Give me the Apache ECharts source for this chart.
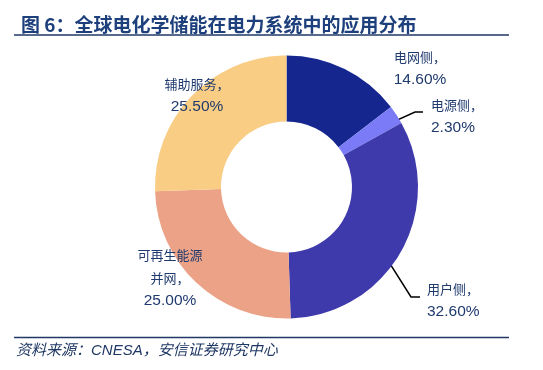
<!DOCTYPE html>
<html>
<head>
<meta charset="utf-8">
<script src="https://cdn.jsdelivr.net/npm/echarts@6/dist/echarts.min.js"></script>
<style>
html,body{margin:0;padding:0;background:#fff;}
#main{width:543px;height:370px;}
</style>
</head>
<body>
<div id="main"></div>
<script>
// ---- data ----
const categories = ['电网侧', '电源侧', '用户侧', '可再生能源\n并网', '辅助服务'];
const shares = [14.6, 2.3, 32.6, 25.0, 25.5];
const sliceColors = ['#15278f', '#7b7bf7', '#3e3aac', '#eba287', '#f9cd83'];

// ---- layout constants ----
const CX = 286.5, CY = 187, R_IN = 65.5, R_OUT = 131.5;
const TEXT = '#1f3a6e';
// label anchor positions per slice
const labelPos = [
  {x: 420, y: 46, align: 'center'},
  {x: 431, y: 94, align: 'left'},
  {x: 427, y: 278, align: 'left'},
  {x: 170, y: 244, align: 'center'},
  {x: 197, y: 73, align: 'center'}
];
const showLine = [false, true, true, false, false];
const lineElbow = [null, [415, 112, 423], [411, 297, 420], null, null];

const total = shares.reduce((a, b) => a + b, 0);
function midAngle(i) {
  let cum = 0;
  for (let k = 0; k < i; k++) cum += shares[k];
  cum += shares[i] / 2;
  return cum / total * Math.PI * 2; // clockwise from top
}

const chart = echarts.init(document.getElementById('main'), null, {renderer: 'canvas'});
const seriesData = categories.map((name, i) => ({
  name: name,
  value: shares[i],
  itemStyle: {color: sliceColors[i]},
  labelLine: {show: showLine[i]}
}));

chart.setOption({
  backgroundColor: '#fff',
  animation: false,
  title: {
    text: '图 6：全球电化学储能在电力系统中的应用分布',
    left: 16, top: 10,
    textStyle: {
      fontFamily: '"Noto Sans CJK SC", sans-serif',
      fontSize: 19, fontWeight: 'bold', color: '#1d3f7c'
    }
  },
  graphic: [
    {type: 'line', shape: {x1: 14, y1: 35, x2: 509, y2: 35}, style: {stroke: '#1f3864', lineWidth: 1.5}},
    {type: 'line', shape: {x1: 14, y1: 337.5, x2: 509, y2: 337.5}, style: {stroke: '#1f3864', lineWidth: 1.5}},
    {type: 'text', left: 16, top: 343, style: {
      text: '资料来源：CNESA，安信证券研究中心',
      font: 'italic 15px "Liberation Sans", "Noto Sans CJK SC", sans-serif',
      fill: '#1f3864'
    }}
  ],
  series: [{
    type: 'pie',
    center: [CX, CY],
    radius: [R_IN, R_OUT],
    startAngle: 90,
    clockwise: true,
    avoidLabelOverlap: false,
    silent: true,
    label: {
      show: true,
      position: 'outside',
      formatter: p => '{n|' + p.name.split('\n').join('}\n{n|') + '，}\n{v|' + p.value.toFixed(2) + '%}',
      rich: {
        n: {fontFamily: '"Noto Sans CJK SC", sans-serif', fontSize: 13, color: TEXT, lineHeight: 23},
        v: {fontFamily: '"Liberation Sans", Arial, sans-serif', fontSize: 15.5, color: TEXT, lineHeight: 21}
      }
    },
    labelLine: {lineStyle: {color: '#000', width: 1.5}},
    labelLayout: function (params) {
      const i = params.dataIndex;
      const lp = labelPos[i];
      const res = {x: lp.x, y: lp.y, align: lp.align, verticalAlign: 'top'};
      if (showLine[i]) {
        const a = midAngle(i);
        const rm = (R_IN + R_OUT) / 2;
        const sx = CX + rm * Math.sin(a), sy = CY - rm * Math.cos(a);
        const e = lineElbow[i];
        res.labelLinePoints = [[sx, sy], [e[0], e[1]], [e[2], e[1]]];
      }
      return res;
    },
    data: seriesData
  }]
});
</script>
</body>
</html>
